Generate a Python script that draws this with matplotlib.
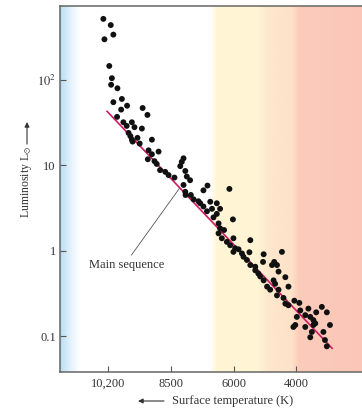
import numpy as np
import matplotlib.pyplot as plt
from matplotlib.colors import to_rgb
from matplotlib.ticker import NullLocator

plt.rcParams['font.family'] = ['Liberation Serif', 'DejaVu Serif']
plt.rcParams['mathtext.fontset'] = 'stix'

# stars: surface temperature (K), luminosity (L_sun)
temps = [10330, 10130, 10300, 10060, 10170, 10100, 10120, 9950, 10060, 9830,
         9690, 9270, 9850, 9140, 9960, 9790, 9560, 9700, 9490, 9290,
         9650, 9600, 9560, 9540, 9410, 9350, 9020, 9110, 8840, 9020,
         9130, 8950, 8890, 8800, 8660, 8570, 8370, 8140, 8010, 8080,
         7940, 7880, 7750, 8010, 7940, 7930, 7720, 7610, 7420, 7350,
         7060, 7220, 6190, 6950, 6690, 7220, 7080, 6880, 6560, 6690,
         6820, 6050, 6620, 6560, 6400, 6620, 6490, 6030, 6290, 6160,
         5970, 5860, 6030, 5750, 5480, 5510, 5700, 5590, 5050, 4460,
         5070, 4710, 4620, 5480, 5320, 4780, 5320, 5220, 5160, 5050,
         4570, 4350, 4730, 4680, 4940, 4840, 4570, 4250, 4620, 4410,
         4350, 4250, 4060, 3900, 3870, 3610, 3360, 3180, 3020, 3710,
         3550, 3450, 3980, 4030, 4090, 3710, 3450, 3390, 3500, 3550,
         2920, 3130, 3080, 3020]
lums = [520, 440, 300, 340, 146, 105, 88, 80, 55, 60,
        50, 47, 45, 39, 37, 32, 32, 29, 28, 27,
        24, 22, 20, 19, 21, 18, 20, 15, 14.5, 13.5,
        11.8, 11.2, 10.4, 8.8, 8.4, 7.7, 7.2, 9.8, 12.1, 11.0,
        8.6, 7.4, 6.7, 5.9, 4.9, 4.5, 4.5, 4.0, 3.8, 3.6,
        5.8, 5.1, 5.3, 3.75, 3.6, 3.3, 2.9, 3.1, 3.1, 2.7,
        2.46, 2.33, 2.09, 1.83, 1.75, 1.6, 1.4, 1.4, 1.27, 1.16,
        1.07, 1.04, 0.97, 0.93, 1.33, 0.96, 0.85, 0.78, 0.91, 0.97,
        0.74, 0.74, 0.68, 0.68, 0.65, 0.68, 0.59, 0.54, 0.50, 0.45,
        0.57, 0.49, 0.45, 0.41, 0.38, 0.35, 0.35, 0.38, 0.30, 0.28,
        0.24, 0.23, 0.26, 0.245, 0.20, 0.21, 0.19, 0.22, 0.19, 0.176,
        0.168, 0.154, 0.168, 0.135, 0.128, 0.128, 0.135, 0.141, 0.112, 0.097,
        0.135, 0.112, 0.090, 0.076]

ms_temps = [10230, 2850]
ms_lums = [43, 0.072]

tick_temps = [10200, 8500, 6000, 4000]
tick_labels = ['10,200', '8500', '6000', '4000']
lum_ticks = [0.1, 1, 10, 100]
lum_labels = ['0.1', '1', '10', '$10^2$']

# the temperature ticks are evenly spaced, so use a piecewise scale
scale_T = [0, 4000, 6000, 8500, 10200, 20000]
scale_q = [-125, 0, 62, 125, 188, 551]


def fwd(t):
    return np.interp(t, scale_T, scale_q)


def inv(q):
    return np.interp(q, scale_q, scale_T)


W, H = 362, 412
fig = plt.figure(figsize=(W / 100, H / 100), dpi=100)
rect = [60 / W, 40 / H, 302 / W, 366 / H]

# colour bands behind the plot
bg = fig.add_axes(rect, zorder=0)
stop_pos = np.array([60, 64, 72, 80, 210, 217, 258, 268, 292, 299, 362])
stop_col = ['#b9dcf2', '#c8e6f7', '#eaf5fc', '#ffffff', '#ffffff', '#fff6d6',
            '#fff4d4', '#fde8cd', '#fde2c8', '#fcccbb', '#fbc6b7']
xs = np.linspace(60, 362, 700)
rgb = np.array([to_rgb(c) for c in stop_col])
img = np.stack([np.interp(xs, stop_pos, rgb[:, k]) for k in range(3)], axis=-1)
bg.imshow(img[np.newaxis, :, :], extent=[0, 1, 0, 1], aspect='auto')
bg.axis('off')

ax = fig.add_axes(rect, zorder=1)
ax.set_facecolor('none')
ax.set_xscale('function', functions=(fwd, inv))
ax.set_yscale('log')

ax.plot(ms_temps, ms_lums, color='#d01a66', lw=1.2, zorder=2)
ax.scatter(temps, lums, s=18, color='#111111', edgecolors='none', zorder=3)

ax.set_xlim(11500, 1895)
ax.set_ylim(0.038, 736)
ax.set_xticks(tick_temps)
ax.set_xticklabels(tick_labels)
ax.set_yticks(lum_ticks)
ax.set_yticklabels(lum_labels)
ax.xaxis.set_minor_locator(NullLocator())
ax.yaxis.set_minor_locator(NullLocator())
ax.tick_params(direction='in', length=4, width=0.8, color='#555555',
               labelcolor='#333333', labelsize=9)
ax.tick_params(axis='x', pad=4)
ax.tick_params(axis='y', pad=3)

ax.spines['right'].set_visible(False)
for side in ['left', 'bottom', 'top']:
    ax.spines[side].set_color('#666666')
    ax.spines[side].set_linewidth(1.1)

ax.annotate('Main sequence', xy=(8170, 5.4), xytext=(9690, 0.68),
            ha='center', va='center', fontsize=9, color='#333333',
            arrowprops=dict(arrowstyle='-', color='#555555', lw=0.6,
                            shrinkA=1, shrinkB=0, relpos=(0.52, 1.0)))

fig.text(233 / W, 1 - 401 / H, 'Surface temperature (K)', ha='center',
         va='center', fontsize=9, color='#333333')
ax.annotate('', xy=(138 / W, 1 - 401 / H), xytext=(164 / W, 1 - 401 / H),
            xycoords='figure fraction', textcoords='figure fraction',
            arrowprops=dict(arrowstyle='-|>', color='#333333', lw=0.8,
                            mutation_scale=7, shrinkA=0, shrinkB=0))

fig.text(27 / W, 1 - 182 / H, r'Luminosity L$_{\odot}$', rotation=90,
         ha='center', va='center', fontsize=8.5, color='#333333')
ax.annotate('', xy=(27 / W, 1 - 122 / H), xytext=(27 / W, 1 - 144 / H),
            xycoords='figure fraction', textcoords='figure fraction',
            arrowprops=dict(arrowstyle='-|>', color='#333333', lw=0.8,
                            mutation_scale=7, shrinkA=0, shrinkB=0))

fig.savefig('out.png', dpi=100)
